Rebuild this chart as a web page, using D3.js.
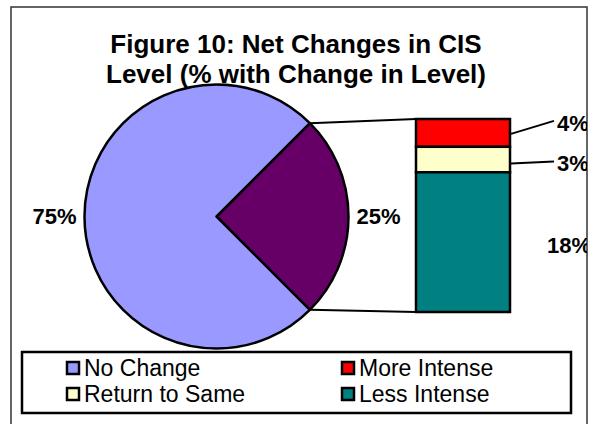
<!DOCTYPE html>
<html>
<head>
<meta charset="utf-8">
<script src="https://cdn.jsdelivr.net/npm/d3@7"></script>
<style>
  body { margin: 0; background: #fff; }
  text { font-family: "Liberation Sans", Arial, sans-serif; }
</style>
</head>
<body>
<div id="chart"></div>
<script>
const titleLines = ["Figure 10: Net Changes in CIS", "Level (% with Change in Level)"];

// main pie: "No Change" and the combined "other" slice that is split in the bar
const pieNames = ["No Change", "Other"];
const pieValues = [75, 25];
const pieColors = ["#9999FF", "#660066"];

// bar of pie, top to bottom
const barNames = ["More Intense", "Return to Same", "Less Intense"];
const barValues = [3.6, 3.3, 18.1];
const barColors = ["#FF0000", "#FFFFCC", "#008080"];

const legendItems = [
    { name: "No Change", color: "#9999FF" },
    { name: "More Intense", color: "#FF0000" },
    { name: "Return to Same", color: "#FFFFCC" },
    { name: "Less Intense", color: "#008080" }
];

const width = 594, height = 424;
const cx = 216.5, cy = 216.5, r = 132;

const svg = d3.select("#chart").append("svg")
    .attr("width", width)
    .attr("height", height);

svg.append("defs").append("clipPath")
    .attr("id", "area")
    .append("rect")
    .attr("x", 11).attr("y", 7)
    .attr("width", 576).attr("height", 430);

// chart area border
svg.append("rect")
    .attr("x", 11).attr("y", 7)
    .attr("width", 576).attr("height", 430)
    .attr("fill", "white")
    .attr("stroke", "#333")
    .attr("stroke-width", 1.5);

const plot = svg.append("g").attr("clip-path", "url(#area)");

// pie
const pie = d3.pie().sort(null)
    .startAngle(Math.PI / 4)
    .endAngle(Math.PI / 4 + 2 * Math.PI);
const arcs = pie([pieValues[1], pieValues[0]]);   // other slice first, starting at 45deg
const arc = d3.arc().innerRadius(0).outerRadius(r);
const labelArc = d3.arc().innerRadius(r + 30).outerRadius(r + 30);

const pieG = plot.append("g").attr("transform", `translate(${cx},${cy})`);
pieG.selectAll("path")
    .data(arcs)
    .enter().append("path")
    .attr("d", arc)
    .attr("fill", (d, i) => i === 0 ? pieColors[1] : pieColors[0])
    .attr("stroke", "black")
    .attr("stroke-width", 2.5)
    .attr("stroke-linejoin", "round");

pieG.selectAll("text")
    .data(arcs)
    .enter().append("text")
    .attr("transform", d => `translate(${labelArc.centroid(d)})`)
    .attr("text-anchor", "middle")
    .attr("dy", "0.36em")
    .style("font-size", "22px")
    .style("font-weight", "bold")
    .text(d => d.value + "%");

// stacked bar
const barX = 416, barW = 94;
const y = d3.scaleLinear().domain([0, d3.sum(barValues)]).range([119, 312]);
let acc = 0;
const stack = barValues.map((v, i) => {
    const s = { name: barNames[i], value: v, y0: acc, y1: acc + v, color: barColors[i] };
    acc += v;
    return s;
});

// connector lines from slice edge to bar
const otherArc = arcs[0];
const pTop = [cx + r * Math.sin(otherArc.startAngle), cy - r * Math.cos(otherArc.startAngle)];
const pBot = [cx + r * Math.sin(otherArc.endAngle), cy - r * Math.cos(otherArc.endAngle)];
plot.append("line")
    .attr("x1", pTop[0]).attr("y1", pTop[1])
    .attr("x2", barX).attr("y2", y(0))
    .attr("stroke", "black").attr("stroke-width", 2);
plot.append("line")
    .attr("x1", pBot[0]).attr("y1", pBot[1])
    .attr("x2", barX).attr("y2", y(d3.sum(barValues)))
    .attr("stroke", "black").attr("stroke-width", 2);

plot.selectAll(".seg")
    .data(stack)
    .enter().append("rect")
    .attr("class", "seg")
    .attr("x", barX)
    .attr("y", d => y(d.y0))
    .attr("width", barW)
    .attr("height", d => y(d.y1) - y(d.y0))
    .attr("fill", d => d.color)
    .attr("stroke", "black")
    .attr("stroke-width", 2.5);

// bar labels (offset a little where Excel moved them)
const labelShift = [-10, 4, 3];
const labelX = [557, 557, 547];
stack.forEach((d, i) => {
    const ly = (y(d.y0) + y(d.y1)) / 2 + labelShift[i];
    if (i < 2) {
        plot.append("line")
            .attr("x1", barX + barW + 1).attr("y1", i === 0 ? ly + 11 : ly)
            .attr("x2", labelX[i] - 3).attr("y2", ly - 2)
            .attr("stroke", "black").attr("stroke-width", 2);
    }
    plot.append("text")
        .attr("x", labelX[i])
        .attr("y", ly)
        .attr("dy", "0.36em")
        .style("font-size", "22px")
        .style("font-weight", "bold")
        .text(Math.round(d.value) + "%");
});

// title
svg.selectAll(".title")
    .data(titleLines)
    .enter().append("text")
    .attr("class", "title")
    .attr("x", 296)
    .attr("y", (d, i) => 53 + i * 30)
    .attr("text-anchor", "middle")
    .style("font-size", "26px")
    .style("font-weight", "bold")
    .text(d => d);

// legend
const legend = svg.append("g");
legend.append("rect")
    .attr("x", 22).attr("y", 352)
    .attr("width", 549).attr("height", 61)
    .attr("fill", "white")
    .attr("stroke", "black")
    .attr("stroke-width", 2.5);

const item = legend.selectAll(".item")
    .data(legendItems)
    .enter().append("g")
    .attr("class", "item")
    .attr("transform", (d, i) => `translate(${i % 2 === 0 ? 67 : 342},${i < 2 ? 362 : 388})`);

item.append("rect")
    .attr("width", 12).attr("height", 12)
    .attr("fill", d => d.color)
    .attr("stroke", "black")
    .attr("stroke-width", 2.5);

item.append("text")
    .attr("x", 17)
    .attr("y", 14)
    .style("font-size", "23px")
    .text(d => d.name);
</script>
</body>
</html>
